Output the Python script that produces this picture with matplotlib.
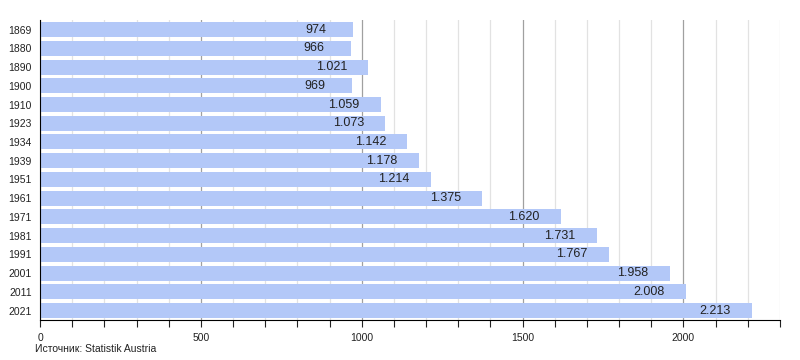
import matplotlib
matplotlib.use("Agg")
import matplotlib.pyplot as plt
from matplotlib.ticker import MultipleLocator
from matplotlib.transforms import offset_copy

years = ["1869", "1880", "1890", "1900", "1910", "1923", "1934", "1939", "1951",
         "1961", "1971", "1981", "1991", "2001", "2011", "2021"]
values = [974, 966, 1021, 969, 1059, 1073, 1142, 1178, 1214, 1375, 1620, 1731,
          1767, 1958, 2008, 2213]
labels = ["974", "966", "1.021", "969", "1.059", "1.073", "1.142", "1.178", "1.214",
          "1.375", "1.620", "1.731", "1.767", "1.958", "2.008", "2.213"]

plt.rcParams['font.family'] = ['Liberation Sans', 'DejaVu Sans']

fig = plt.figure(figsize=(8, 3.6), dpi=100)
ax = fig.add_axes([0.05, 0.111, 0.925, 0.833])

ypos = list(range(len(years)))
ax.barh(ypos, values, height=0.8, color="#b3c8f8", zorder=3)
ax.set_ylim(len(years) - 0.5, -0.5)
ax.set_xlim(0, 2300)
ax.set_yticks(ypos)
ax.set_yticklabels(years, fontsize=7.5, color="#222222")
ax.tick_params(axis='y', length=0, pad=6)

ax.xaxis.set_major_locator(MultipleLocator(500))
ax.xaxis.set_minor_locator(MultipleLocator(100))
ax.tick_params(axis='x', which='both', direction='out', length=5, width=0.8,
               labelsize=7.5, colors="#222222", pad=4)
ax.grid(axis='x', which='major', color="#a0a0a0", linewidth=0.9, zorder=0)
ax.grid(axis='x', which='minor', color="#e2e2e2", linewidth=0.9, zorder=0)
ax.grid(axis='y', visible=False)

for s in ['top', 'right']:
    ax.spines[s].set_visible(False)
ax.spines['left'].set_color('black')
ax.spines['bottom'].set_color('black')
ax.spines['left'].set_zorder(4)

for y, v, lab in zip(ypos, values, labels):
    tr = offset_copy(ax.transData, fig=fig, x=-37, y=0, units='dots')
    ax.text(v, y, lab, transform=tr, ha='center', va='center', fontsize=9,
            color="#222222", zorder=5)

fig.text(35 / 800, 1 - 349 / 360, "Источник: Statistik Austria", fontsize=7.5,
         color="#222222", ha='left', va='center')

fig.savefig("out.png", dpi=100)
